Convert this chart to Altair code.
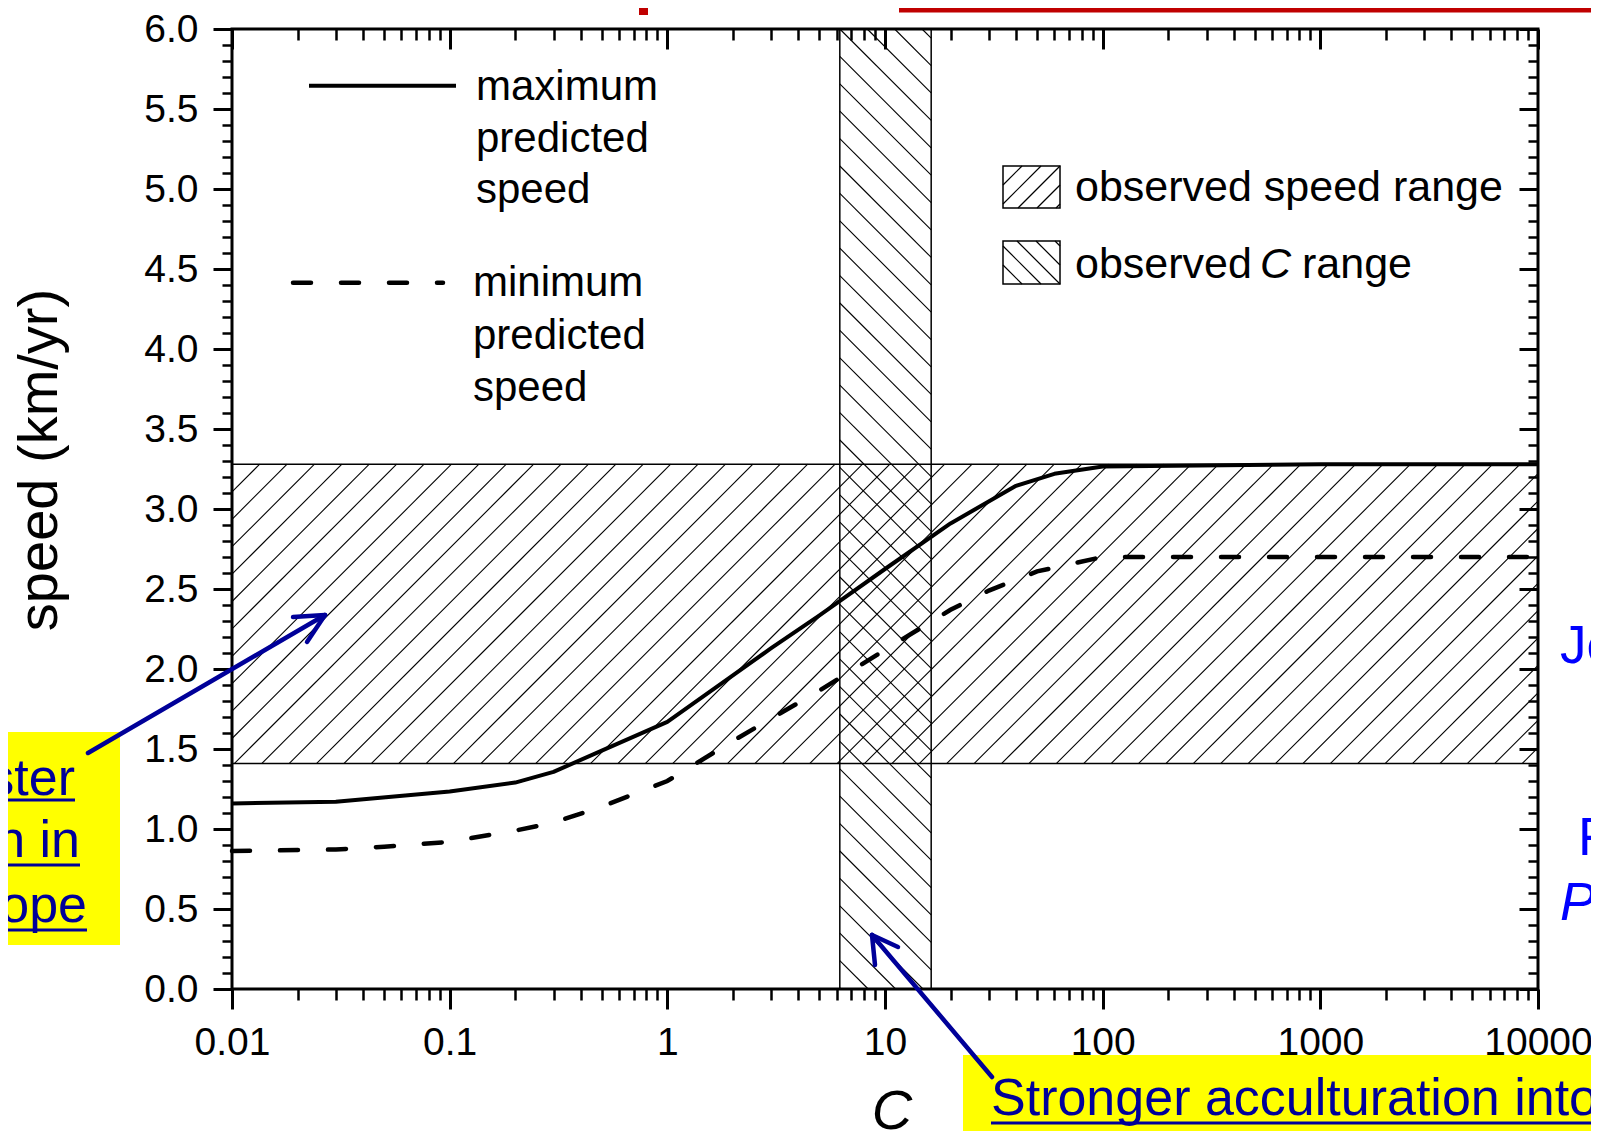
import altair as alt
import numpy as np
import pandas as pd

# ---------------- data ----------------
C_MAX = [0.01, 0.03, 0.1, 0.2, 0.3, 0.5, 1, 2, 3, 5, 10, 20, 40, 60, 100, 1000, 10000]
SPEED_MAX = [1.16, 1.17, 1.235, 1.29, 1.357, 1.49, 1.67, 1.96, 2.13, 2.335, 2.625, 2.91, 3.145, 3.22, 3.265, 3.28, 3.28]
C_MIN = [0.01, 0.03, 0.05, 0.1, 0.2, 0.3, 0.5, 1, 2, 3, 5, 10, 20, 30, 50, 100, 1000, 10000]
SPEED_MIN = [0.862, 0.872, 0.889, 0.92, 0.99, 1.04, 1.14, 1.30, 1.55, 1.69, 1.865, 2.12, 2.37, 2.49, 2.61, 2.70, 2.70, 2.70]
SPEED_RANGE = [1.41, 3.28]
C_RANGE = [6.2, 16.3]
X_MAJOR = [0.01, 0.1, 1, 10, 100, 1000, 10000]
X_MINOR = [m * 10.0 ** e for e in range(-2, 4) for m in range(2, 10)]
Y_MAJOR = [i * 0.5 for i in range(13)]
Y_MINOR = [round(i * 0.1, 1) for i in range(61) if i % 5]

# ---------------- styling / layout ----------------
FONT = "Liberation Sans"
NAVY = "#000099"
BLUE = "#0000FF"
W, H = 1306, 960
PAD_L, PAD_T, PAD_R, PAD_B = 224, 21, 53, 142
X0, Y0 = 8 + PAD_L, 8 + PAD_T  # page position of plot origin

XS = alt.Scale(type="log", domain=[X_MAJOR[0], X_MAJOR[-1]], nice=False)
YS = alt.Scale(domain=[Y_MAJOR[0], Y_MAJOR[-1]], nice=False, zero=False)

LOG_LO, LOG_HI = np.log10(X_MAJOR[0]), np.log10(X_MAJOR[-1])
PX_DEC = W / (LOG_HI - LOG_LO)
PX_UNIT = H / (Y_MAJOR[-1] - Y_MAJOR[0])
K = PX_DEC / PX_UNIT          # data-y per decade for a 45 degree line
STEP = 27.4 / PX_DEC          # hatch spacing in decades

layers = []

# ---------------- hatch patterns (computed in data space) ----------------
segs = []
ylo, yhi = SPEED_RANGE
b = LOG_LO + 2.5 / PX_DEC - np.ceil(((yhi - ylo) / K) / STEP) * STEP
while b < LOG_HI:
    la, lb = max(LOG_LO, b), min(LOG_HI, b + (yhi - ylo) / K)
    if la < lb:
        segs.append((10 ** la, ylo + K * (la - b), 10 ** lb, ylo + K * (lb - b)))
    b += STEP
c1, c2 = np.log10(C_RANGE)
ytop = Y_MAJOR[-1]
c = c1 - np.ceil((ytop / K) / STEP) * STEP
while c < c2:
    la, lb = max(c1, c), min(c2, c + ytop / K)
    if la < lb:
        segs.append((10 ** la, ytop - K * (la - c), 10 ** lb, ytop - K * (lb - c)))
    c += STEP
hatch_df = pd.DataFrame(segs, columns=["x1", "y1", "x2", "y2"])
layers.append(alt.Chart(hatch_df).mark_rule(color="black", strokeWidth=1.1).encode(
    x=alt.X("x1:Q", scale=XS, axis=None), x2="x2:Q",
    y=alt.Y("y1:Q", scale=YS, axis=None), y2="y2:Q"))

border_df = pd.DataFrame({
    "x1": [X_MAJOR[0], X_MAJOR[0], C_RANGE[0], C_RANGE[1]],
    "x2": [X_MAJOR[-1], X_MAJOR[-1], C_RANGE[0], C_RANGE[1]],
    "y1": [SPEED_RANGE[0], SPEED_RANGE[1], Y_MAJOR[0], Y_MAJOR[0]],
    "y2": [SPEED_RANGE[0], SPEED_RANGE[1], Y_MAJOR[-1], Y_MAJOR[-1]],
})
layers.append(alt.Chart(border_df).mark_rule(color="black", strokeWidth=1.5).encode(
    x=alt.X("x1:Q", scale=XS, axis=None), x2="x2:Q",
    y=alt.Y("y1:Q", scale=YS, axis=None), y2="y2:Q"))

# ---------------- curves ----------------
max_df = pd.DataFrame({"C": C_MAX, "speed": SPEED_MAX})
min_df = pd.DataFrame({"C": C_MIN, "speed": SPEED_MIN})
layers.append(alt.Chart(max_df).mark_line(color="black", strokeWidth=4, strokeJoin="round").encode(
    x=alt.X("C:Q", scale=XS, axis=None), y=alt.Y("speed:Q", scale=YS, axis=None)))
layers.append(alt.Chart(min_df).mark_line(color="black", strokeWidth=4.5, strokeDash=[18, 30],
                                          strokeCap="round").encode(
    x=alt.X("C:Q", scale=XS, axis=None), y=alt.Y("speed:Q", scale=YS, axis=None)))

# ---------------- axes (major/minor, four sides) ----------------
common = dict(domain=False, grid=False, tickColor="black", zindex=0, title=None)
lab = dict(labelFont=FONT, labelColor="black", labelFlush=False, labelOverlap=False)
xmaj = alt.Axis(orient="bottom", values=X_MAJOR, format="~g", tickSize=20, tickWidth=3,
                labelFontSize=39, labelPadding=14, **lab, **common)
xmin = alt.Axis(orient="bottom", values=X_MINOR, tickSize=11, tickWidth=2.5, labels=False, **common)
xmaj_t = alt.Axis(orient="bottom", offset=-H, values=X_MAJOR, tickSize=20, tickWidth=3, labels=False, **common)
xmin_t = alt.Axis(orient="bottom", offset=-H, values=X_MINOR, tickSize=11, tickWidth=2.5, labels=False, **common)
ymaj = alt.Axis(orient="left", values=Y_MAJOR, format=".1f", tickSize=19, tickWidth=3,
                labelFontSize=39, labelPadding=15, **lab, **common)
ymin = alt.Axis(orient="left", values=Y_MINOR, tickSize=10, tickWidth=2.5, labels=False, **common)
ymaj_r = alt.Axis(orient="left", offset=-W, values=Y_MAJOR, tickSize=19, tickWidth=3, labels=False, **common)
ymin_r = alt.Axis(orient="left", offset=-W, values=Y_MINOR, tickSize=10, tickWidth=2.5, labels=False, **common)

carrier = pd.DataFrame({"cx": [1.0], "cy": [1.0]})
for xa, ya in [(xmaj, ymaj), (xmin, ymin), (xmaj_t, ymaj_r), (xmin_t, ymin_r)]:
    layers.append(alt.Chart(carrier).mark_point(opacity=0).encode(
        x=alt.X("cx:Q", scale=XS, axis=xa), y=alt.Y("cy:Q", scale=YS, axis=ya)))

# ---------------- annotations (page pixel positions) ----------------
ONE = pd.DataFrame({"k": [0]})


def gx(p):
    return p - X0


def gy(p):
    return p - Y0


def T(text, x, y, size, color="black", align="left", italic=False, angle=None, baseline="alphabetic"):
    kw = dict(text=text, font=FONT, fontSize=size, color=color, align=align, baseline=baseline)
    if italic:
        kw["fontStyle"] = "italic"
    if angle is not None:
        kw["angle"] = angle
    layers.append(alt.Chart(ONE).mark_text(**kw).encode(x=alt.value(gx(x)), y=alt.value(gy(y))))


def R(xa, ya, xb, yb, color="black", width=1.0, dash=None, cap="butt"):
    kw = dict(color=color, strokeWidth=width, strokeCap=cap)
    if dash:
        kw["strokeDash"] = dash
    layers.append(alt.Chart(ONE).mark_rule(**kw).encode(
        x=alt.value(gx(xa)), x2=alt.value(gx(xb)), y=alt.value(gy(ya)), y2=alt.value(gy(yb))))


def BOX(xa, ya, xb, yb, fill, stroke=None, sw=0):
    kw = dict(fill=fill)
    if stroke:
        kw["stroke"] = stroke
        kw["strokeWidth"] = sw
    layers.append(alt.Chart(ONE).mark_rect(**kw).encode(
        x=alt.value(gx(xa)), x2=alt.value(gx(xb)), y=alt.value(gy(ya)), y2=alt.value(gy(yb))))


def hatch_box(xa, ya, xb, yb, spacing, forward=True):
    h = yb - ya
    bb = xa - h
    while bb < xb:
        sa, sb = max(xa, bb), min(xb, bb + h)
        if sa < sb:
            if forward:
                R(sa, yb - (sa - bb), sb, yb - (sb - bb), width=1.2)
            else:
                R(sa, ya + (sa - bb), sb, ya + (sb - bb), width=1.2)
        bb += spacing


# red remnants at top of page
BOX(899, 8, 1599, 12.5, "#C00000")
BOX(639, 8, 648, 15, "#C00000")

# legend, top-left
R(309, 85.7, 456, 85.7, width=4)
T("maximum", 476, 100, 42)
T("predicted", 476, 151.5, 42)
T("speed", 476, 203, 42)
R(293, 282.7, 443, 282.7, width=4.5, dash=[18, 30], cap="round")
T("minimum", 473, 296, 42)
T("predicted", 473, 348.5, 42)
T("speed", 473, 401, 42)

# legend, hatch boxes
BOX(1003, 166, 1060, 208, "white", "black", 1.5)
hatch_box(1003, 166, 1060, 208, 19, forward=True)
BOX(1003, 241, 1060, 284, "white", "black", 1.5)
hatch_box(1003, 241, 1060, 284, 19, forward=False)
T("observed speed range", 1075, 201, 43)
T("observed", 1075, 278, 43)
T("C", 1260, 278, 43, italic=True)
T("range", 1302, 278, 43)

# axis titles
T("speed (km/yr)", 56.5, 460, 56, angle=270, align="center")
T("C", 892, 1129, 56, italic=True, align="center")

# left yellow annotation
BOX(8, 732, 120, 945, "#FFFF00")
T("ster", 75, 795, 52, color=NAVY, align="right")
T("n in", 80, 857, 52, color=NAVY, align="right")
T("ope", 87, 922, 52, color=NAVY, align="right")
R(8, 800, 75, 800, color=NAVY, width=3)
R(8, 865, 80, 865, color=NAVY, width=3)
R(8, 930, 87, 930, color=NAVY, width=3)

# bottom yellow annotation
BOX(963, 1055, 1599, 1139, "#FFFF00")
T("Stronger acculturation into", 991, 1115, 52, color=NAVY)
R(991, 1123, 1599, 1123, color=NAVY, width=3)

# arrows
R(88, 753, 325, 615, color=NAVY, width=4.5, cap="round")
R(325, 615, 293, 617, color=NAVY, width=4.5, cap="round")
R(325, 615, 307, 642, color=NAVY, width=4.5, cap="round")
R(992, 1077, 872, 935, color=NAVY, width=4.5, cap="round")
R(872, 935, 875, 965, color=NAVY, width=4.5, cap="round")
R(872, 935, 898, 947, color=NAVY, width=4.5, cap="round")

# right-edge fragments
T("Je", 1560, 663, 53, color=BLUE)
T("F", 1578, 855, 53, color=BLUE)
T("Pr", 1560, 920, 53, color=BLUE, italic=True)

chart = alt.layer(*layers).resolve_axis(x="independent", y="independent").properties(
    width=W, height=H,
    padding={"left": PAD_L, "top": PAD_T, "right": PAD_R, "bottom": PAD_B},
    autosize=alt.AutoSizeParams(type="none"),
    background="white",
).configure_view(stroke="black", strokeWidth=3)

chart.save("out.html", embed_options={"renderer": "svg", "actions": False})
